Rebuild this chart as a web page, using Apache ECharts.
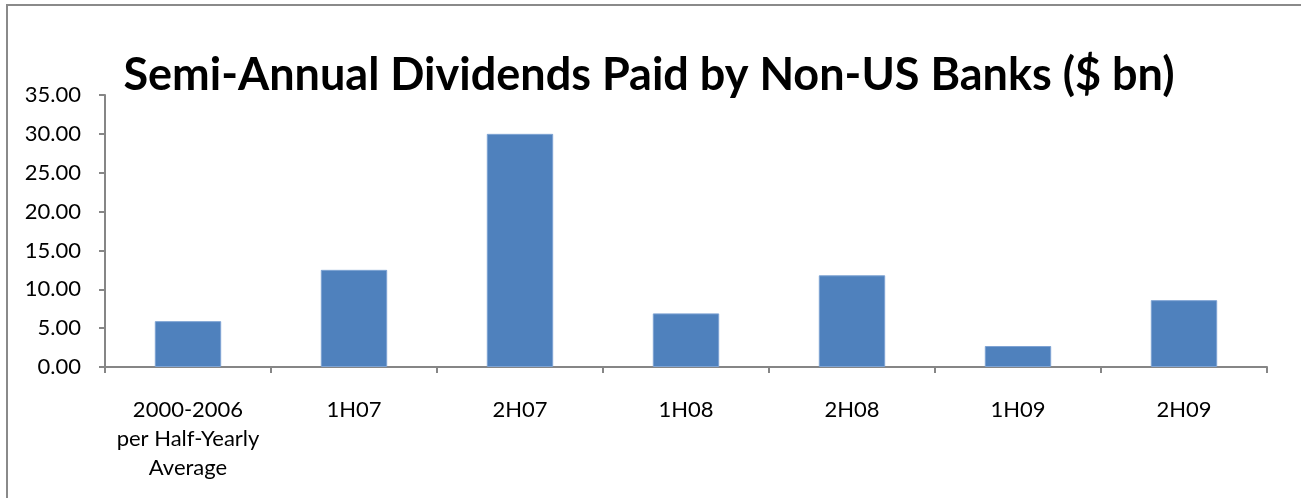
<!DOCTYPE html>
<html>
<head>
<meta charset="utf-8">
<script src="https://cdn.jsdelivr.net/npm/echarts@6/dist/echarts.min.js"></script>
<style>
  html, body { margin: 0; padding: 0; background: #fff; }
  #chart { width: 1301px; height: 498px; }
</style>
</head>
<body>
<div id="chart"></div>
<script>
// categories and values
const categories = ['2000-2006\nper Half-Yearly\nAverage', '1H07', '2H07', '1H08', '2H08', '1H09', '2H09'];
const dividends = [5.9, 12.5, 30.0, 6.9, 11.8, 2.7, 8.6];
const yTicks = { min: 0, max: 35, step: 5 };

const titleText = 'Semi-Annual Dividends Paid by Non-US Banks ($ bn)';
const font = 'Lato, "Open Sans", sans-serif';
const axisGrey = '#868686';

let chart = echarts.init(document.getElementById('chart'), null, { renderer: 'canvas' });

chart.setOption({
    animation: false,
    backgroundColor: '#fff',
    title: {
        text: titleText,
        left: 644,
        top: 48,
        textAlign: 'center',
        textStyle: { fontFamily: font, fontSize: 45, fontWeight: 'bold', color: '#000' }
    },
    // frame round the chart, cut off at right and bottom
    graphic: [{
        type: 'rect',
        silent: true,
        shape: { x: 7, y: 5, width: 1400, height: 600 },
        style: { fill: 'none', stroke: '#8a8a8a', lineWidth: 2 }
    }],
    grid: { left: 105, right: 34, top: 95, bottom: 131, containLabel: false },
    xAxis: {
        type: 'category',
        data: categories,
        axisLine: { lineStyle: { color: axisGrey, width: 2 } },
        axisTick: { show: true, length: 6, lineStyle: { color: axisGrey, width: 2 } },
        axisLabel: {
            interval: 0,
            margin: 28,
            color: '#000',
            fontFamily: font,
            fontSize: 22,
            lineHeight: 29,
            align: 'center'
        }
    },
    yAxis: {
        type: 'value',
        min: yTicks.min,
        max: yTicks.max,
        interval: yTicks.step,
        axisLine: { show: true, lineStyle: { color: axisGrey, width: 2 } },
        axisTick: { show: true, length: 6, lineStyle: { color: axisGrey, width: 2 } },
        splitLine: { show: false },
        axisLabel: {
            margin: 24,
            color: '#000',
            fontFamily: font,
            fontSize: 22,
            formatter: v => v.toFixed(2)
        }
    },
    series: [{
        type: 'bar',
        data: dividends,
        barCategoryGap: '60%',
        itemStyle: { color: '#4F81BD', borderColor: '#7ea3d3', borderWidth: 1 }
    }]
});
</script>
</body>
</html>
